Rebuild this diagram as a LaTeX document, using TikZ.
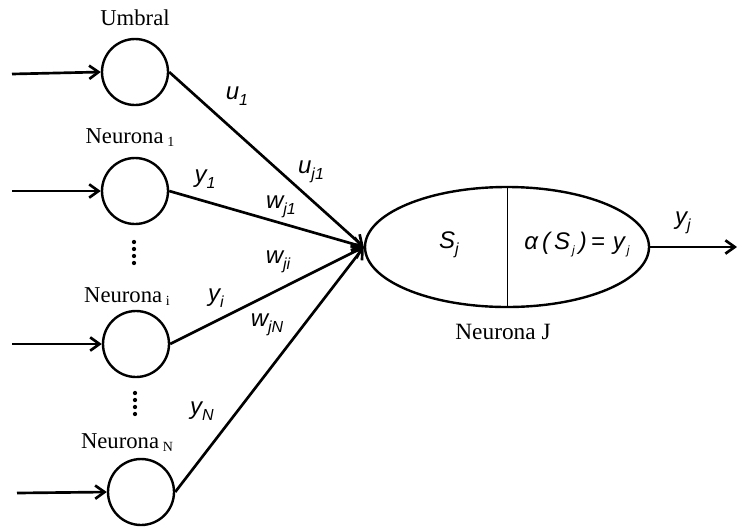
\documentclass[tikz,border=0pt]{standalone}
\usepackage{fontspec}
\setmainfont{Liberation Serif}
\newfontfamily\arialf{Liberation Sans}
\usetikzlibrary{arrows.meta,shapes.geometric}
\newcommand\lsub[1]{\raisebox{-0.45ex}{\fontsize{12}{12}\selectfont #1}}
\newcommand\nsub[1]{\raisebox{-0.3ex}{\fontsize{10.5}{11}\selectfont #1}}
\newcommand\esub[1]{\raisebox{-0.4ex}{\fontsize{9}{9}\selectfont #1}}
\newcommand\wl[2]{{\arialf\itshape #1\lsub{#2}}}
\begin{document}
\begin{tikzpicture}[x=0.75pt,y=-0.75pt,
  neuron/.style={draw,circle,line width=1.8pt,minimum size=49.5pt,inner sep=0pt},
  feed/.style={line width=2pt,-{Straight Barb[length=7pt,width=10pt,line width=2pt]}},
  lab/.style={font=\fontsize{18}{18}\selectfont,inner sep=0pt},
  tlab/.style={font=\fontsize{17}{17}\selectfont,inner sep=0pt},
  dotsst/.style={fill,circle,inner sep=0pt,minimum size=3.2pt}]
\useasboundingbox (0,0) rectangle (737,529);
% input neurons
\node[neuron] (u) at (135,72) {};
\node[neuron] (n1) at (135,191) {};
\node[neuron] (ni) at (136,344) {};
\node[neuron] (nN) at (141,492) {};
% titles
\node[tlab] (tu) at (135,18) {Umbral};
\node[tlab] (t1) at (130,138) {Neurona\,\nsub{1}};
\node[tlab] (ti) at (127,297) {Neurona\,\nsub{i}};
\node[tlab] (tN) at (127,443) {Neurona\,\nsub{N}};
% vertical dots
\foreach \k in {0,1,2,3} {
  \node[dotsst] (da\k) at (134,{242+7*\k}) {};
  \node[dotsst] (db\k) at (135,{393+7*\k}) {};
}
% input arrows
\coordinate (iu) at (12,74);
\coordinate (i1) at (12,191);
\coordinate (ii) at (12,344);
\coordinate (iN) at (17,493);
\draw[feed] (iu) -- (u.west);
\draw[feed] (i1) -- (n1.west);
\draw[feed] (ii) -- (ni.west);
\draw[feed] (iN) -- (nN.west);
% output neuron
\node[draw,ellipse,line width=1.8pt,minimum width=213pt,minimum height=90pt,inner sep=0pt] (e) at (507,247) {};
\draw[line width=0.7pt] (e.north) -- (e.south);
\node[lab] (sj) at (449,245) {\wl{S}{j}};
\node[lab] (alpha) at (577,245) {{\arialf\itshape α\,(\,S\esub{\,j}\,)\,=\,\,y\esub{\,j}}};
\node[font=\fontsize{17.5}{18}\selectfont,inner sep=0pt] (tJ) at (503,332) {Neurona J};
% connections
\draw[feed] (u.east) -- (e.west);
\draw[feed] (n1.east) -- (e.west);
\draw[feed] (ni.east) -- (e.west);
\draw[feed] (nN.east) -- (e.west);
\coordinate (out) at (737,247);
\draw[feed] (e.east) -- (out);
% weight labels
\node[lab] (lu1) at (237,96) {\wl{u}{1}};
\node[lab] (luj1) at (311,172) {\wl{u}{j1}};
\node[lab] (ly1) at (205,179) {\wl{y}{1}};
\node[lab] (lwj1) at (281,207) {\wl{w}{j1}};
\node[lab] (lwji) at (278,262) {\wl{w}{ji}};
\node[lab] (lyi) at (216,298) {\wl{y}{i}};
\node[lab] (lwjN) at (267,325) {\wl{w}{jN}};
\node[lab] (lyN) at (202,411) {\wl{y}{N}};
\node[lab] (lyj) at (683,223) {\wl{y}{j}};
\end{tikzpicture}
\end{document}
